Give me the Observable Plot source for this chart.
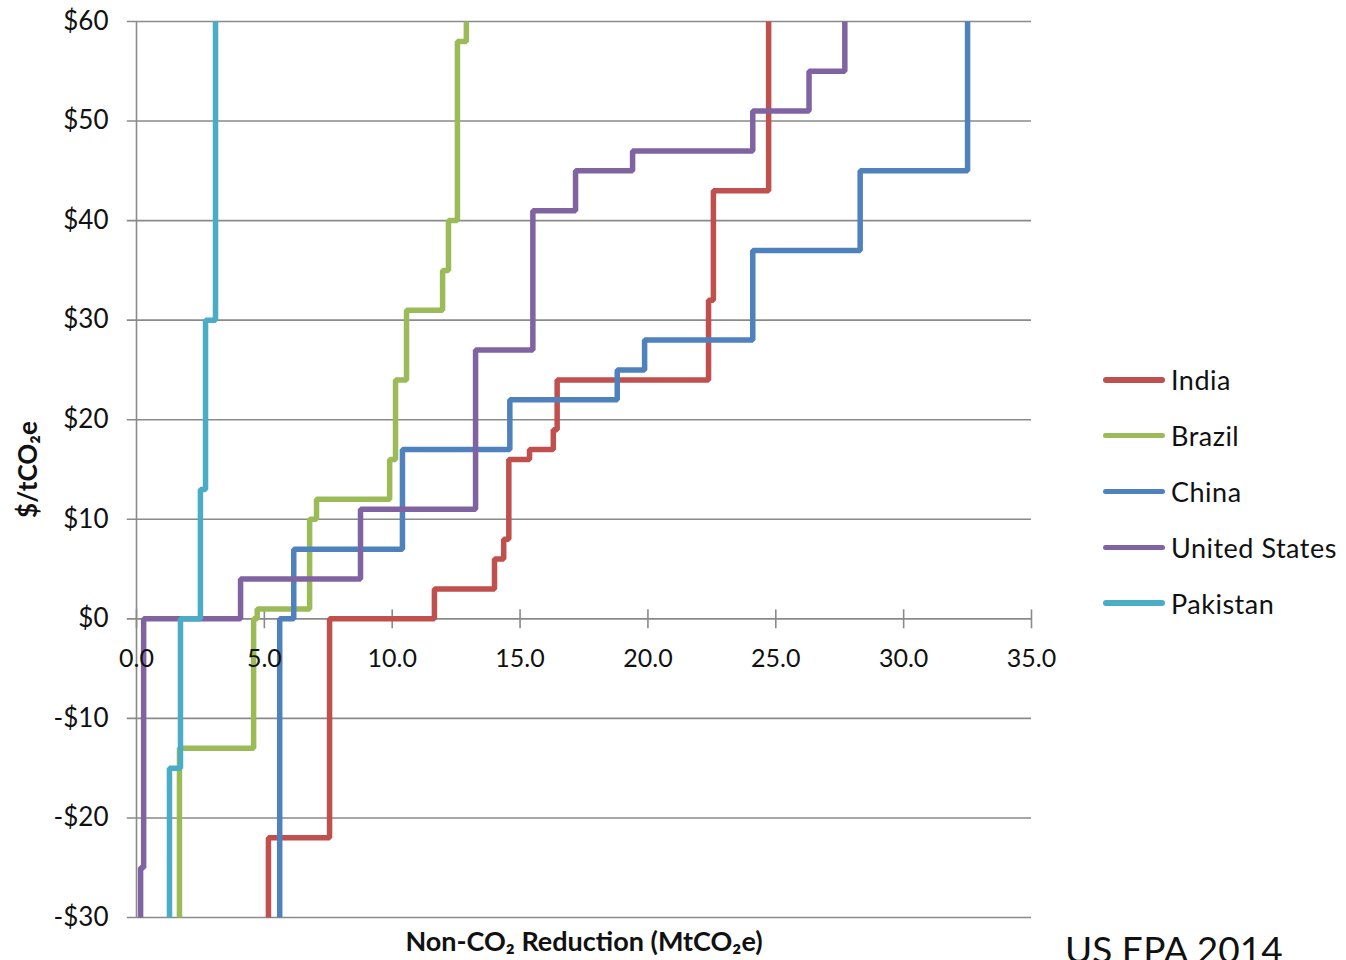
<!DOCTYPE html>
<html>
<head>
<meta charset="utf-8">
<script src="https://cdn.jsdelivr.net/npm/d3@7"></script>
<script src="https://cdn.jsdelivr.net/npm/@observablehq/plot@0.6"></script>
<style>
  html, body { margin: 0; padding: 0; background: #fff; }
  #wrap { position: relative; width: 1346px; height: 960px; overflow: hidden; font-family: Lato, "Open Sans", sans-serif; }
  #legend { position: absolute; left: 1103px; top: 352px; }
  .item { display: flex; align-items: center; height: 55.8px; font-size: 27px; letter-spacing: 0.5px; color: #111; }
  .sw { width: 62px; height: 5.5px; border-radius: 3px; margin-right: 6px; }
  #src { position: absolute; left: 1065px; top: 926px; font-size: 37px; color: #111; white-space: nowrap; }
</style>
</head>
<body>
<div id="wrap"></div>
<script>
// Marginal abatement cost curves: step points (left end of each horizontal segment)
const countries = ["India", "Brazil", "China", "United States", "Pakistan"];
const colors = ["#c0504d", "#9bbb59", "#4f81bd", "#8064a2", "#4bacc6"];

const indiaX = [5.16, 5.16, 7.55, 11.65, 14.0, 14.36, 14.56, 15.37, 16.3, 16.45, 22.37, 22.56, 24.72];
const indiaY = [-30, -22, 0, 3, 6, 8, 16, 17, 19, 24, 32, 43, 60];

const brazilX = [1.68, 1.68, 4.58, 4.72, 6.77, 7.04, 9.9, 10.13, 10.56, 11.97, 12.2, 12.55, 12.9];
const brazilY = [-30, -13, 0, 1, 10, 12, 16, 24, 31, 35, 40, 58, 60];

const chinaX = [5.6, 5.6, 6.15, 10.4, 14.6, 18.8, 19.87, 24.1, 28.3, 32.5];
const chinaY = [-30, 0, 7, 17, 22, 25, 28, 37, 45, 60];

const usX = [0.16, 0.16, 0.28, 4.07, 8.76, 13.26, 15.5, 17.17, 19.4, 24.1, 26.3, 27.7];
const usY = [-30, -25, 0, 4, 11, 27, 41, 45, 47, 51, 55, 60];

const pakistanX = [1.29, 1.29, 1.72, 2.5, 2.7, 3.09];
const pakistanY = [-30, -15, 0, 13, 30, 60];

const xTicks = [0, 5, 10, 15, 20, 25, 30, 35];
const yTicks = [-30, -20, -10, 0, 10, 20, 30, 40, 50, 60];

const yTitle = "$/tCO₂e";
const xTitle = "Non-CO₂ Reduction (MtCO₂e)";
const source = "US EPA 2014";

const seriesX = [indiaX, brazilX, chinaX, usX, pakistanX];
const seriesY = [indiaY, brazilY, chinaY, usY, pakistanY];
const rows = countries.flatMap((c, i) => seriesX[i].map((x, j) => ({country: c, x, y: seriesY[i][j]})));

const fmtY = d => (d < 0 ? "-$" : "$") + Math.abs(d);
const fmtX = d3.format(".1f");

const chart = Plot.plot({
  width: 1346,
  height: 960,
  marginLeft: 136,
  marginRight: 315,
  marginTop: 21,
  marginBottom: 43,
  style: {fontFamily: "Lato, 'Open Sans', sans-serif", background: "#fff", color: "#111"},
  x: {domain: [0, 35], axis: null},
  y: {domain: [-30, 60], axis: null},
  color: {domain: countries, range: colors},
  marks: [
    Plot.ruleY(yTicks, {y: d => d, x1: -0.36, x2: 35, stroke: "#8a8a8a", strokeWidth: 1.6}),
    Plot.ruleX([0], {y1: -30, y2: 60, stroke: "#8a8a8a", strokeWidth: 1.6}),
    Plot.ruleX(xTicks, {x: d => d, y1: -1, y2: 0.9, stroke: "#8a8a8a", strokeWidth: 1.6}),
    Plot.text(yTicks, {x: 0, y: d => d, text: fmtY, textAnchor: "end", dx: -28, fontSize: 26, fill: "#111"}),
    Plot.line(rows, {x: "x", y: "y", z: "country", stroke: "country", curve: "step-after", strokeWidth: 5.5, strokeLinejoin: "miter", strokeLinecap: "butt"}),
    Plot.text(xTicks, {x: d => d, y: 0, text: fmtX, dy: 40, fontSize: 25, fill: "#111"}),
    Plot.text([yTitle], {frameAnchor: "left", textAnchor: "middle", dx: -108, rotate: -90, fontSize: 26, fontWeight: "bold", fill: "#111"}),
    Plot.text([xTitle], {frameAnchor: "bottom", dy: 33, fontSize: 27, fontWeight: "bold", fill: "#111"})
  ]
});

const wrap = document.getElementById("wrap");
wrap.appendChild(chart);

const legend = document.createElement("div");
legend.id = "legend";
countries.forEach((c, i) => {
  const it = document.createElement("div");
  it.className = "item";
  const sw = document.createElement("span");
  sw.className = "sw";
  sw.style.background = colors[i];
  const t = document.createElement("span");
  t.textContent = c;
  it.appendChild(sw); it.appendChild(t);
  legend.appendChild(it);
});
wrap.appendChild(legend);

const src = document.createElement("div");
src.id = "src";
src.textContent = source;
wrap.appendChild(src);
</script>
</body>
</html>
